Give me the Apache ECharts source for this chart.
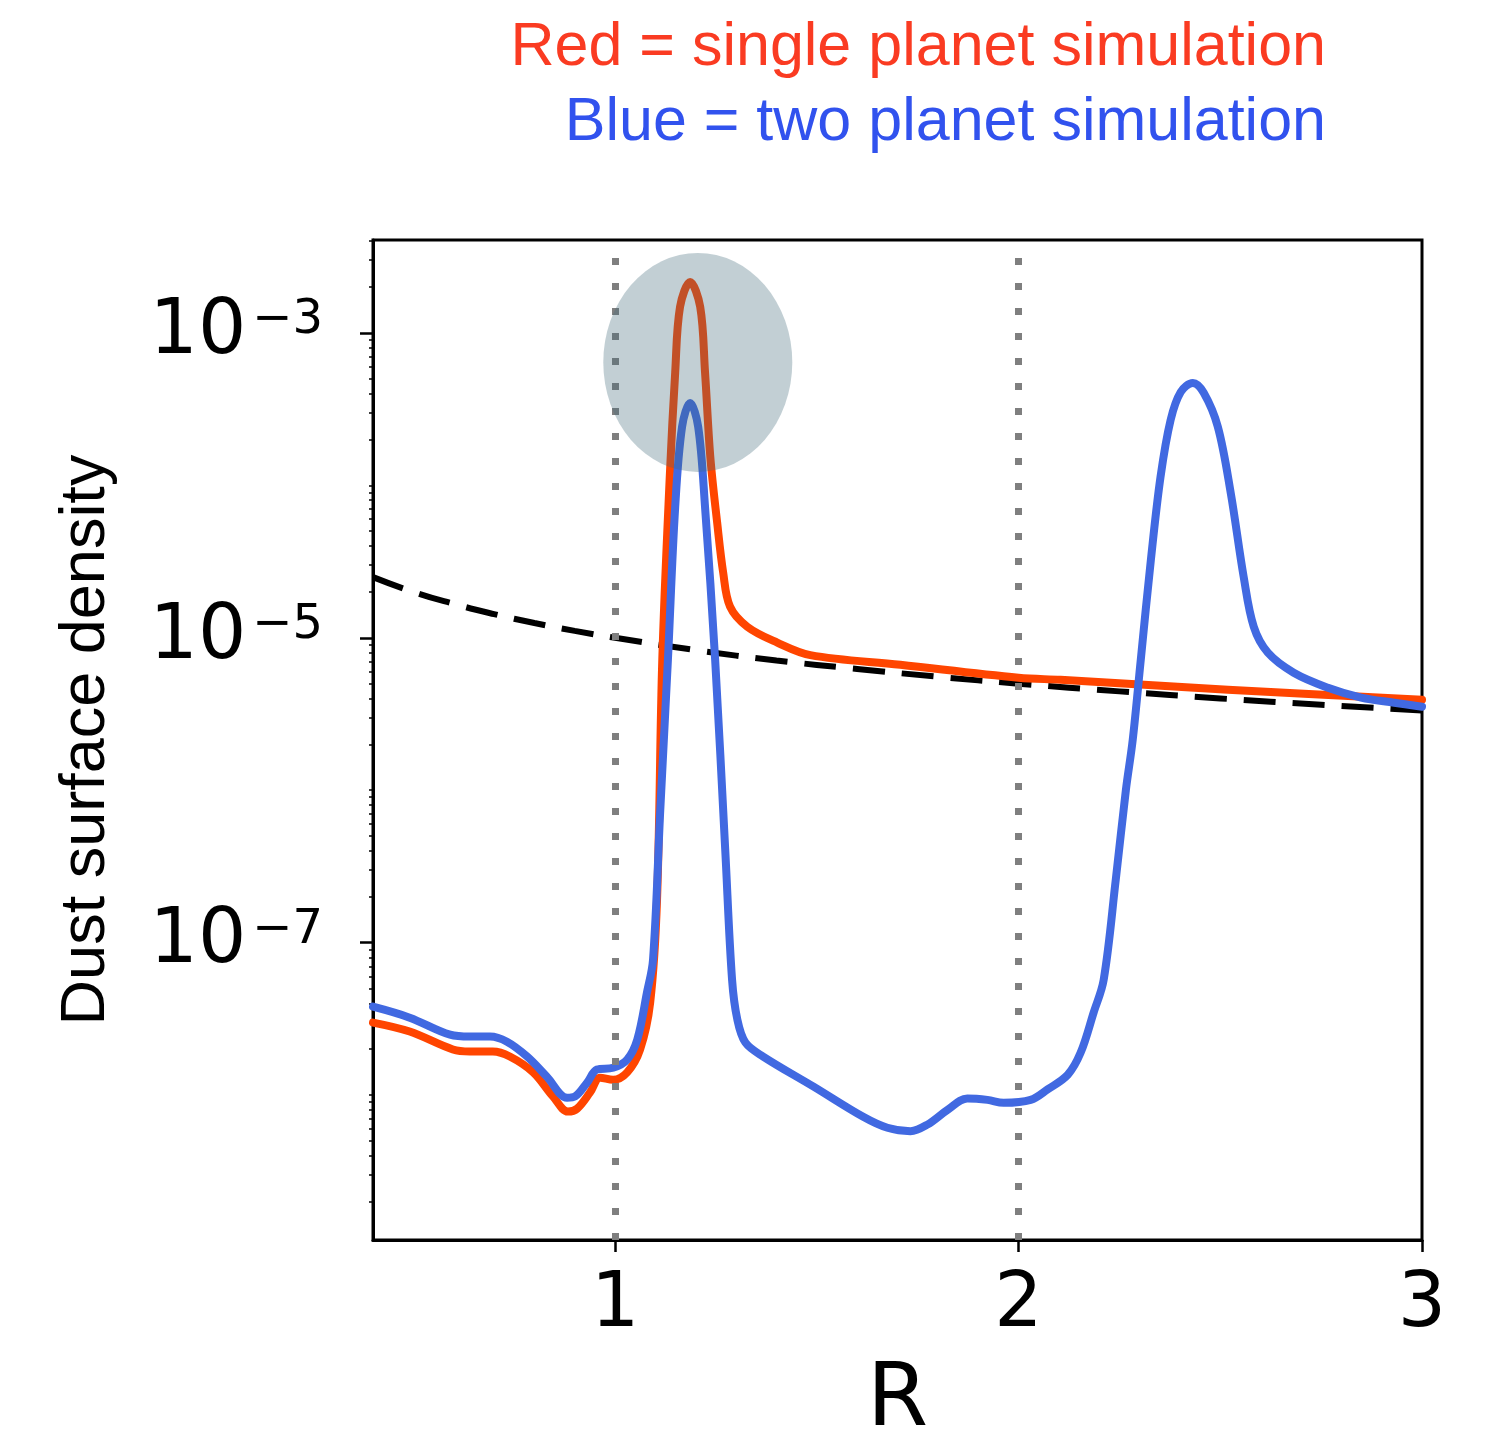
<!DOCTYPE html>
<html><head><meta charset="utf-8">
<script src="https://cdn.jsdelivr.net/npm/echarts@6/dist/echarts.min.js"></script>
<style>html,body{margin:0;padding:0;background:#fff}#c{width:1485px;height:1444px}</style>
</head><body><div id="c"></div>
<script>
// ---- text ----
const titleRed = 'Red = single planet simulation';
const titleBlue = 'Blue = two planet simulation';
const xName = 'R';
const yName = 'Dust surface density';

// ---- axes ----
const xMin = 0.4, xMax = 3;
const yMin = 1.12e-9, yMax = 4.07e-3;
const xTickValues = [1, 2, 3];
const yTickValues = [1e-7, 1e-5, 1e-3];
const planetR = [1, 2];

// ---- red: single planet simulation ----
const redR = [0.40, 0.491, 0.598, 0.640, 0.697, 0.739, 0.797, 0.846, 0.883, 0.906,
  0.938, 0.963, 0.995, 1.030, 1.062, 1.087, 1.104, 1.117, 1.136, 1.149,
  1.161, 1.186, 1.211, 1.223, 1.236, 1.253, 1.268, 1.285, 1.328, 1.402,
  1.484, 1.707, 2.0, 2.104, 2.519, 3.0];
const redS = [2.99e-8, 2.61e-8, 1.99e-8, 1.93e-8, 1.93e-8, 1.79e-8, 1.41e-8, 9.8e-9, 7.8e-9, 8.15e-9,
  1.04e-8, 1.30e-8, 1.26e-8, 1.41e-8, 1.99e-8, 4.05e-8, 1.91e-7, 7.2e-6, 1.21e-4, 5.5e-4,
  1.48e-3, 2.16e-3, 1.48e-3, 5.5e-4, 1.54e-4, 5.7e-5, 2.67e-5, 1.60e-5, 1.18e-5, 9.3e-6,
  7.7e-6, 6.65e-6, 5.47e-6, 5.3e-6, 4.56e-6, 3.92e-6];

// ---- blue: two planet simulation ----
const blueR = [0.40, 0.491, 0.591, 0.640, 0.690, 0.732, 0.782, 0.831, 0.881, 0.901,
  0.931, 0.955, 0.995, 1.030, 1.055, 1.079, 1.094, 1.112, 1.131, 1.149,
  1.166, 1.186, 1.206, 1.223, 1.248, 1.273, 1.290, 1.303, 1.323, 1.367,
  1.491, 1.615, 1.675, 1.732, 1.774, 1.824, 1.873, 1.923, 1.963, 2.030,
  2.072, 2.122, 2.154, 2.186, 2.211, 2.241, 2.266, 2.283, 2.303, 2.328,
  2.352, 2.377, 2.402, 2.432, 2.459, 2.494, 2.526, 2.558, 2.583, 2.618,
  2.682, 2.767, 2.849, 2.931, 3.0];
const blueS = [3.8e-8, 3.22e-8, 2.49e-8, 2.42e-8, 2.42e-8, 2.24e-8, 1.79e-8, 1.32e-8, 9.6e-9, 9.8e-9,
  1.21e-8, 1.47e-8, 1.51e-8, 1.71e-8, 2.31e-8, 4.7e-8, 7.7e-8, 7.4e-7, 7.2e-6, 7.2e-5,
  2.42e-4, 3.47e-4, 2.42e-4, 7.2e-5, 7.2e-6, 4.07e-7, 5.7e-8, 3.13e-8, 2.21e-8, 1.79e-8,
  1.14e-8, 7.2e-9, 6.1e-9, 5.8e-9, 6.4e-9, 8.0e-9, 9.5e-9, 9.3e-9, 8.9e-9, 9.3e-9,
  1.09e-8, 1.36e-8, 1.90e-8, 3.47e-8, 5.7e-8, 2.59e-7, 1.0e-6, 2.14e-6, 7.2e-6, 3.24e-5,
  1.14e-4, 2.69e-4, 4.1e-4, 4.7e-4, 4.05e-4, 2.42e-4, 8.9e-5, 2.51e-5, 1.18e-5, 7.98e-6,
  5.9e-6, 4.7e-6, 4.05e-6, 3.75e-6, 3.53e-6];

// ---- dashed reference profile ----
const dashR = [0.4, 0.5, 0.6, 0.7, 0.8, 0.9, 1.0, 1.2, 1.4, 1.6, 1.8, 2.0, 2.25, 2.5, 2.75, 3.0];
const dashS = [2.5e-5, 2.0e-5, 1.67e-5, 1.43e-5, 1.25e-5, 1.11e-5, 1.0e-5, 8.3e-6, 7.1e-6, 6.25e-6,
  5.55e-6, 5.0e-6, 4.45e-6, 4.0e-6, 3.64e-6, 3.33e-6];

// ---- highlighted region (shaded ellipse) ----
const highlightR = [1.205];
const highlightS = [6.4e-4];

// minor log ticks (k x 10^e, skipping labelled decades)
const minorTicks = [];
for (let e = -9; e <= -3; e++) {
  for (let k = 1; k <= 9; k++) {
    const v = k * Math.pow(10, e);
    if (k === 1 && (e === -7 || e === -5 || e === -3)) continue;
    if (v >= yMin && v <= yMax) minorTicks.push(v);
  }
}

const zip = (a, b) => a.map((v, i) => [v, b[i]]);

const chart = echarts.init(document.getElementById('c'), null, {renderer: 'canvas'});
chart.setOption({
  animation: false,
  backgroundColor: '#fff',
  title: [
    {text: titleRed, right: 154, top: 13,
     textStyle: {fontSize: 61, fontWeight: 'normal', fontFamily: 'Liberation Sans', color: '#fa3b22'}},
    {text: titleBlue, right: 154, top: 88,
     textStyle: {fontSize: 61, fontWeight: 'normal', fontFamily: 'Liberation Sans', color: '#3152ee'}}
  ],
  grid: {left: 373, right: 63, top: 240, bottom: 204, containLabel: false, outerBoundsMode: 'none',
         show: true, borderColor: '#000', borderWidth: 3, backgroundColor: 'transparent'},
  xAxis: {
    type: 'value', min: xMin, max: xMax,
    name: xName, nameLocation: 'middle', nameGap: 118,
    nameTextStyle: {fontSize: 88, fontFamily: 'DejaVu Sans', color: '#000'},
    axisLine: {show: true, lineStyle: {color: '#000', width: 3}},
    axisTick: {show: true, customValues: xTickValues, length: 12, lineStyle: {color: '#000', width: 2.5}},
    axisLabel: {customValues: xTickValues, fontSize: 76, fontFamily: 'DejaVu Sans', color: '#000', margin: 28},
    splitLine: {show: false}
  },
  yAxis: [{
    type: 'log', min: yMin, max: yMax, logBase: 10,
    name: yName, nameLocation: 'middle', nameGap: 255, nameRotate: 90,
    nameTextStyle: {fontSize: 63, fontFamily: 'Liberation Sans', color: '#000'},
    axisLine: {show: true, lineStyle: {color: '#000', width: 3}},
    axisTick: {show: true, customValues: yTickValues, length: 13, lineStyle: {color: '#000', width: 2.5}},
    axisLabel: {
      customValues: yTickValues, margin: 50,
      formatter: function (v) {
        const e = Math.round(Math.log10(v));
        return '{a|10}{b|' + (e < 0 ? '\u2212' : '') + Math.abs(e) + '}';
      },
      rich: {
        a: {fontSize: 76, fontFamily: 'DejaVu Sans', color: '#000'},
        b: {fontSize: 48, fontFamily: 'DejaVu Sans', color: '#000', verticalAlign: 'top', padding: [2, 0, 0, 6]}
      }
    },
    splitLine: {show: false}
  }, {
    type: 'log', min: yMin, max: yMax, logBase: 10, position: 'left',
    axisLine: {show: false},
    axisTick: {show: true, customValues: minorTicks, length: 4, lineStyle: {color: '#000', width: 1.5}},
    axisLabel: {show: false},
    splitLine: {show: false}
  }],
  series: [
    {type: 'line', name: 'reference', data: zip(dashR, dashS), showSymbol: false, smooth: true, z: 2,
     lineStyle: {color: '#000', width: 6, type: [32, 17]}},
    {type: 'line', name: 'single planet', data: zip(redR, redS), showSymbol: false, smooth: 0.35, z: 2,
     lineStyle: {color: '#ff4500', width: 8, cap: 'round', join: 'round'}},
    {type: 'line', name: 'two planet', data: zip(blueR, blueS), showSymbol: false, smooth: 0.35, z: 2,
     lineStyle: {color: '#4169e1', width: 8, cap: 'round', join: 'round'}},
    {type: 'line', name: 'planets', data: [], z: 3,
     markLine: {symbol: 'none', silent: true, label: {show: false},
       lineStyle: {color: '#7f7f7f', width: 7, type: [7, 18], cap: 'butt'},
       data: planetR.map(r => ({xAxis: r}))}},
    {type: 'scatter', name: 'highlight', data: zip(highlightR, highlightS), z: 10, silent: true,
     symbol: 'circle', symbolSize: [189, 219], itemStyle: {color: 'rgba(65,105,120,0.4)'}}
  ]
});
</script></body></html>
